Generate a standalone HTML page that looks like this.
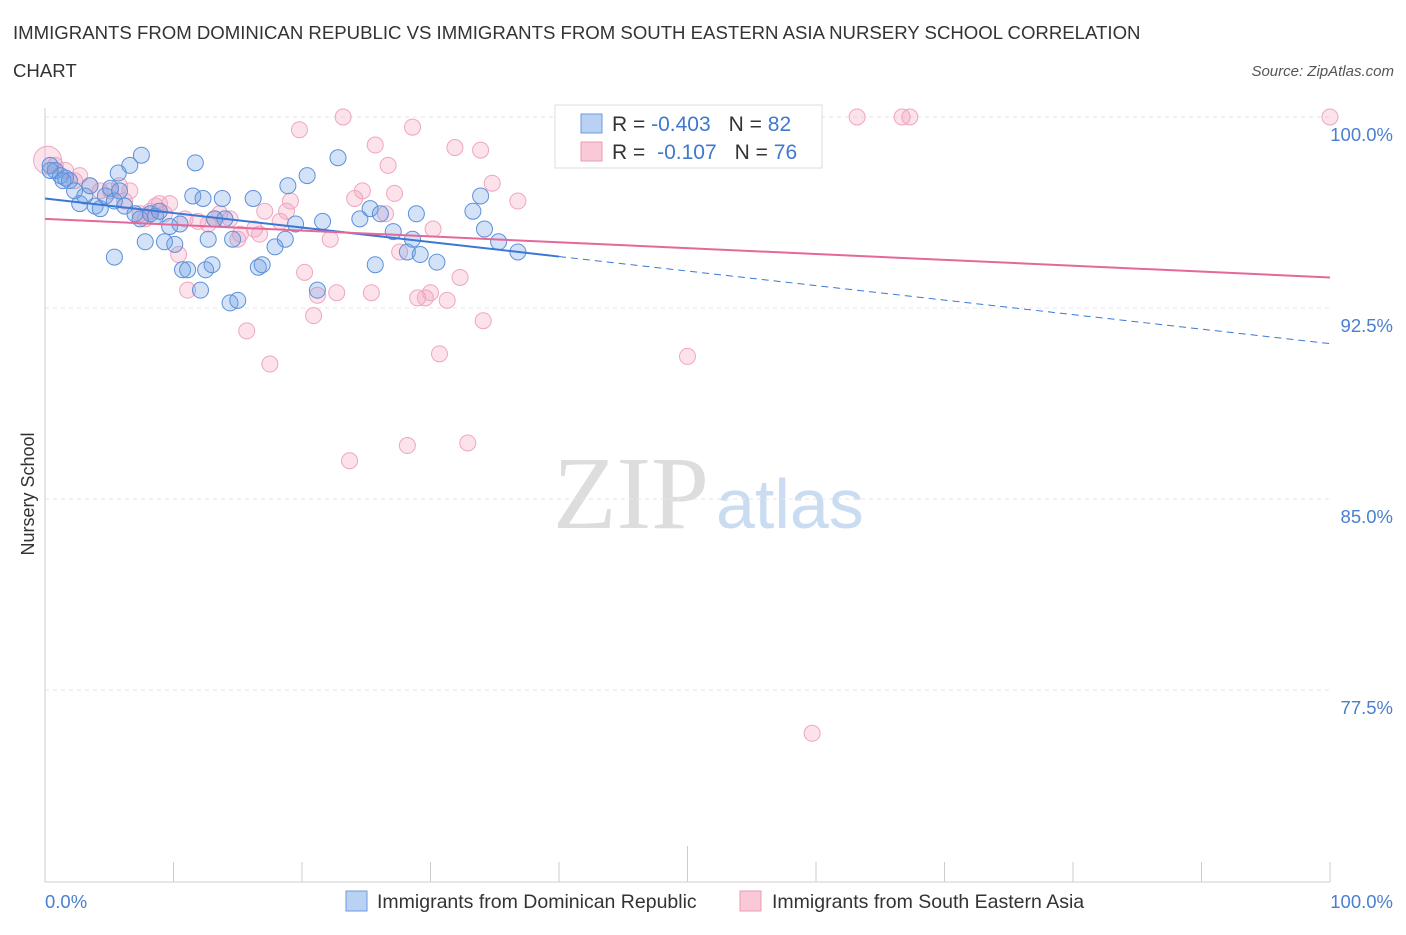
<!DOCTYPE html>
<html><head><meta charset="utf-8"><style>
body{margin:0;background:#fff;font-family:"Liberation Sans",sans-serif;}
</style></head><body>
<svg id="chart" width="1406" height="930" xmlns="http://www.w3.org/2000/svg" font-family="Liberation Sans, sans-serif">
<text x="13" y="39" font-size="18.6" fill="#333">IMMIGRANTS FROM DOMINICAN REPUBLIC VS IMMIGRANTS FROM SOUTH EASTERN ASIA NURSERY SCHOOL CORRELATION</text>
<text x="13" y="77" font-size="18.6" fill="#333">CHART</text>
<text x="1394" y="76" font-size="15" fill="#555" font-style="italic" text-anchor="end">Source: ZipAtlas.com</text>
<g>
<text x="553" y="528" font-size="104" fill="#ddd" style="font-family:'Liberation Serif',serif">ZIP</text>
<text x="716" y="528" font-size="70" fill="#c9dcf2">atlas</text>
</g>
<g id="grid"></g>
<line x1="45" y1="108" x2="45" y2="882" stroke="#ccc"/>
<line x1="45" y1="882" x2="1330" y2="882" stroke="#ccc"/>
<g id="ticks"></g>
<text transform="translate(34,494) rotate(-90)" font-size="18" fill="#333" text-anchor="middle">Nursery School</text>
<text x="45" y="908" font-size="18.5" fill="#4a7fd0">0.0%</text>
<text x="1393" y="908" font-size="18.5" fill="#4a7fd0" text-anchor="end">100.0%</text>
<g id="points"></g>
<g id="trends"></g>
<g>
<rect x="555" y="105" width="267" height="63" fill="#fff" stroke="#ddd"/>
<rect x="581" y="114" width="21" height="19" fill="#b9d1f3" stroke="#6b9be0"/>
<rect x="581" y="142" width="21" height="19" fill="#f9c9d8" stroke="#ec9ab5"/>
<text x="612" y="131" font-size="21" fill="#333">R = <tspan fill="#3f78cf">-0.403</tspan><tspan dx="18">N = </tspan><tspan fill="#3f78cf">82</tspan></text>
<text x="612" y="159" font-size="21" fill="#333">R = <tspan dx="6" fill="#3f78cf">-0.107</tspan><tspan dx="18">N = </tspan><tspan fill="#3f78cf">76</tspan></text>
</g>
<g>
<rect x="346" y="891" width="21" height="20" fill="#b9d1f3" stroke="#6b9be0"/>
<text x="377" y="908" font-size="19.5" fill="#333">Immigrants from Dominican Republic</text>
<rect x="740" y="891" width="21" height="20" fill="#f9c9d8" stroke="#ec9ab5"/>
<text x="772" y="908" font-size="19.5" fill="#333">Immigrants from South Eastern Asia</text>
</g>
</svg>
<script>
const yTicks=[100,92.5,85,77.5];
const yTickLabels=["100.0%","92.5%","85.0%","77.5%"];
const blueX=[0.4,0.8,1.2,1.6,1.9,2.3,2.7,3.1,3.5,3.9,4.3,4.7,5.1,5.4,5.4,5.8,6.2,5.7,6.6,7.5,7.0,7.4,7.8,8.2,8.6,8.9,9.3,9.7,10.1,10.5,10.7,11.1,11.5,11.7,12.1,12.3,12.5,12.7,13.0,13.2,13.8,14.0,14.4,14.6,15.0,16.2,16.6,16.9,17.9,18.7,18.9,19.5,20.4,21.2,21.6,22.8,24.5,25.3,25.7,26.1,27.1,28.2,28.6,28.9,29.2,30.5,33.3,33.9,34.2,35.3,36.8,0.4,1.4];
const blueY=[98.1,97.9,97.7,97.6,97.5,97.1,96.6,96.9,97.3,96.5,96.4,96.9,97.2,96.7,94.5,97.1,96.5,97.8,98.1,98.5,96.2,96.0,95.1,96.2,96.1,96.3,95.1,95.7,95.0,95.8,94.0,94.0,96.9,98.2,93.2,96.8,94.0,95.2,94.2,96.0,96.8,96.0,92.7,95.2,92.8,96.8,94.1,94.2,94.9,95.2,97.3,95.8,97.7,93.2,95.9,98.4,96.0,96.4,94.2,96.2,95.5,94.7,95.2,96.2,94.6,94.3,96.3,96.9,95.6,95.1,94.7,97.9,97.5];
const pinkX=[0.2,0.8,1.6,2.7,3.5,4.3,5.1,5.8,6.6,6.2,7.4,7.8,8.2,8.6,8.9,9.3,9.7,10.4,10.9,11.1,11.9,12.7,13.2,13.6,14.4,15.0,15.2,15.7,16.3,16.7,17.1,17.5,18.3,18.8,19.1,19.8,20.2,20.9,21.2,22.2,22.7,23.2,23.7,24.1,24.7,25.4,25.7,26.5,26.7,27.2,27.6,28.2,28.6,29.0,29.6,30.0,30.2,30.7,31.3,31.9,32.3,32.9,33.9,34.1,34.8,36.8,43.2,50.0,59.7,63.2,66.7,67.3,100,2.3];
const pinkY=[98.3,98.1,97.9,97.7,97.3,97.1,97.1,97.3,97.1,96.7,96.2,96.0,96.3,96.5,96.6,96.2,96.6,94.6,96.0,93.2,95.9,95.8,96.0,96.2,96.0,95.2,95.4,91.6,95.6,95.4,96.3,90.3,95.9,96.3,96.7,99.5,93.9,92.2,93.0,95.2,93.1,100.0,86.5,96.8,97.1,93.1,98.9,96.2,98.1,97.0,94.7,87.1,99.6,92.9,92.9,93.1,95.6,90.7,92.8,98.8,93.7,87.2,98.7,92.0,97.4,96.7,100,90.6,75.8,100,100,100,100,97.5];
const blueTrend=[96.8,91.1]; const blueSolidEnd=40;
const pinkTrend=[96.0,93.7];
const NS="http://www.w3.org/2000/svg";
function sx(v){return 45+v*12.85;}
function sy(v){return 117+(100-v)/7.5*191;}
function mk(tag,attrs,parent){const e=document.createElementNS(NS,tag);for(const k in attrs)e.setAttribute(k,attrs[k]);document.getElementById(parent).appendChild(e);return e;}
yTicks.forEach((t,i)=>{
 const l=mk('line',{x1:45,x2:1330,y1:sy(t),y2:sy(t),stroke:'#e6e6e6','stroke-dasharray':'4,4'},'grid');
 
 
 const tx=mk('text',{x:1393,y:sy(t)+24,'font-size':18.5,fill:'#4a7fd0','text-anchor':'end'},'grid');
 tx.textContent=yTickLabels[i];
 
 
});
for(let i=0;i<=10;i++){
 const x=sx(i*10);
 const l=mk('line',{x1:x,x2:x,y1:(i==5?846:862),y2:882,stroke:'#ccc'},'ticks');
 
 
}
pinkX.forEach((v,i)=>{
 const c=mk('circle',{cx:sx(v),cy:sy(pinkY[i]),r:i==0?14:8,fill:'rgba(243,160,190,0.3)',stroke:'#f0a6bf','stroke-width':1},'points');
 
 
});
blueX.forEach((v,i)=>{
 const c=mk('circle',{cx:sx(v),cy:sy(blueY[i]),r:8,fill:'rgba(110,160,230,0.3)',stroke:'#5d90da','stroke-width':1},'points');
 
 
});
const bMid=blueTrend[0]+(blueTrend[1]-blueTrend[0])*blueSolidEnd/100;
let t=mk('line',{x1:sx(0),y1:sy(blueTrend[0]),x2:sx(blueSolidEnd),y2:sy(bMid),stroke:'#3a78d6','stroke-width':2},'trends');


t=mk('line',{x1:sx(blueSolidEnd),y1:sy(bMid),x2:sx(100),y2:sy(blueTrend[1]),stroke:'#3a78d6','stroke-width':1,'stroke-dasharray':'7,5'},'trends');


t=mk('line',{x1:sx(0),y1:sy(pinkTrend[0]),x2:sx(100),y2:sy(pinkTrend[1]),stroke:'#e5689a','stroke-width':2},'trends');


</script>
</body></html>
